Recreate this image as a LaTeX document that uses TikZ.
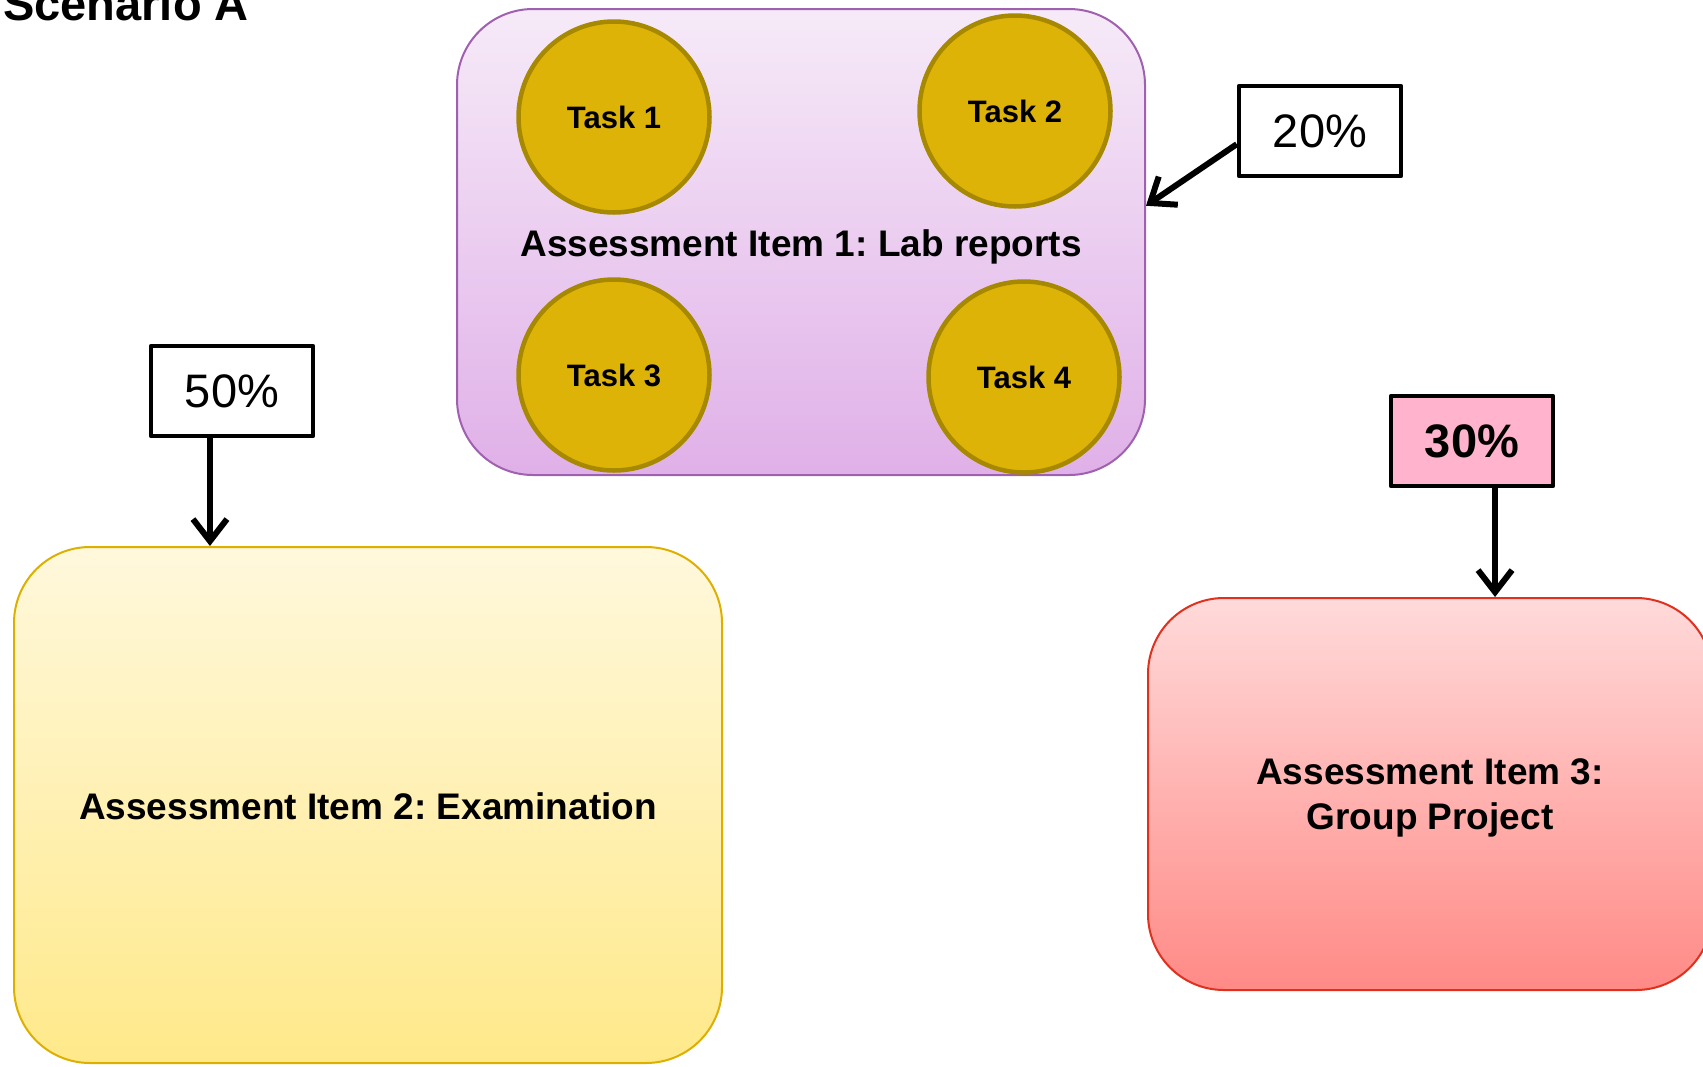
\documentclass[tikz,border=0pt]{standalone}
\usepackage{fontspec}
\setmainfont{Liberation Sans}
\usetikzlibrary{arrows.meta,positioning}

\definecolor{labtop}{HTML}{F6EAF8}
\definecolor{labbot}{HTML}{E0B0E8}
\definecolor{labline}{HTML}{A060B0}
\definecolor{examtop}{HTML}{FFF8DC}
\definecolor{exambot}{HTML}{FFE98A}
\definecolor{examline}{HTML}{DDB000}
\definecolor{projtop}{HTML}{FFDADA}
\definecolor{projbot}{HTML}{FF8A86}
\definecolor{projline}{HTML}{E0301E}
\definecolor{taskfill}{HTML}{DDB307}
\definecolor{taskline}{HTML}{A68900}
\definecolor{sharepink}{HTML}{FFB3CC}

\frenchspacing

\begin{document}
\begin{tikzpicture}[x=1pt,y=-1pt,on grid,line join=round]
       \tikzstyle{item}=[draw, rounded corners=76pt, line width=2pt, align=center, inner sep=0pt,
                         text height=37pt, text depth=8pt,
                         font=\fontsize{37}{45}\selectfont\bfseries]
       \tikzstyle{task}=[circle, draw=taskline, fill=taskfill, line width=4.5pt, minimum size=191pt,
                         font=\fontsize{31}{36}\selectfont\bfseries]
       \tikzstyle{share}=[draw, line width=4.5pt, minimum width=162pt, minimum height=90pt, inner sep=0pt,
                          font=\fontsize{47}{56}\selectfont]
       \tikzstyle{weight}=[line width=6pt, -{Straight Barb[length=22pt,width=34pt]}]

       \useasboundingbox (0,0) rectangle (1703,1066);

       \node[anchor=base west, inner sep=0pt, font=\fontsize{47}{56}\selectfont\bfseries] (title) at (3,20) {Scenario A};

       % assessment items
       \node[item, draw=labline, top color=labtop, bottom color=labbot,
             minimum width=688pt, minimum height=466pt] (item1) at (801,242) {Assessment Item 1: Lab reports};
       \node[item, draw=examline, top color=examtop, bottom color=exambot,
             minimum width=708pt, minimum height=516pt] (item2) at (368,805) {Assessment Item 2: Examination};
       \node[item, draw=projline, top color=projtop, bottom color=projbot, text height={}, text depth=0pt,
             minimum width=564pt, minimum height=392pt] (item3) at (1430,794) {Assessment Item 3:\\Group Project};

       % lab report tasks
       \node[task] (t1) at (614,117) {Task 1};
       \node[task] (t2) at (1015,111) {Task 2};
       \node[task] (t3) [below=258pt of t1] {Task 3};
       \node[task] (t4) [below=266pt of t2, xshift=9pt] {Task 4};

       % weightings
       \node[share] (p20) at (1320,131) {20\%};
       \node[share] (p50) at (232,391) {50\%};
       \node[share, fill=sharepink, font=\fontsize{47}{56}\selectfont\bfseries] (p30) at (1472,441) {30\%};

       \draw[weight] (p20.189) -- (item1.6);
       \draw[weight] (p50.245) -- (p50.245 |- item2.north);
       \draw[weight] (p30.296) -- (p30.296 |- item3.north);
     \end{tikzpicture}
\end{document}
